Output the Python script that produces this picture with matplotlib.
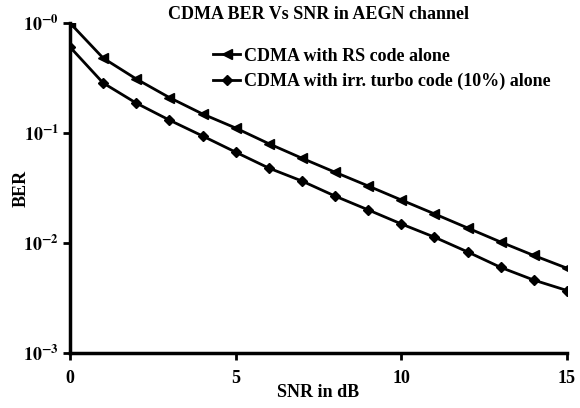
import numpy as np
import matplotlib.pyplot as plt

# Dados
snr = np.arange(0, 16)
ber_rs = [1.0, 0.48, 0.31, 0.21, 0.149, 0.111, 0.080, 0.059, 0.044, 0.033,
          0.0246, 0.0184, 0.0137, 0.0102, 0.0077, 0.0059]
ber_turbo = [0.605, 0.285, 0.187, 0.131, 0.094, 0.067, 0.048, 0.0366, 0.0267, 0.020,
             0.0149, 0.0113, 0.0083, 0.0060, 0.0046, 0.0037]
y_ticks = [1e-3, 1e-2, 1e-1, 1e0]
y_labels = [r'$10^{-3}$', r'$10^{-2}$', r'$10^{-1}$', r'$10^{-0}$']

plt.rcParams['font.family'] = 'Liberation Serif'
plt.rcParams['font.weight'] = 'bold'
plt.rcParams['mathtext.fontset'] = 'stix'
plt.rcParams['mathtext.default'] = 'bf'

fig = plt.figure(figsize=(5.8, 4.08), dpi=100)
ax = fig.add_axes([0.1207, 0.1348, 0.8569, 0.8088])

ax.semilogy(snr, ber_rs, color='black', lw=2, marker='<', ms=7,
            label='CDMA with RS code alone')
ax.semilogy(snr, ber_turbo, color='black', lw=2, marker='D', ms=5,
            label='CDMA with irr. turbo code (10%) alone')

ax.set_xlim(0, 15)
ax.set_ylim(1e-3, 1e0)
ax.set_xticks([0, 5, 10, 15])
ax.set_yticks(y_ticks)
ax.set_yticklabels(y_labels)
ax.minorticks_off()
ax.tick_params(axis='both', width=2, length=5, labelsize=13, direction='out')
ax.tick_params(axis='x', pad=7)
ax.tick_params(axis='y', pad=3)

for s in ['top', 'right']:
    ax.spines[s].set_visible(False)
for s in ['left', 'bottom']:
    ax.spines[s].set_linewidth(2.5)

ax.set_xlabel('SNR in dB', fontsize=13, fontweight='bold', labelpad=-2)
ax.set_ylabel('BER', fontsize=13, fontweight='bold', labelpad=-5)
ax.set_title('CDMA BER Vs SNR in AEGN channel', fontsize=13, fontweight='bold', pad=1)

ax.legend(loc='upper left', bbox_to_anchor=(0.288, 0.925), frameon=False,
          fontsize=13, handlelength=1.5, handletextpad=0.2, labelspacing=0.45,
          borderaxespad=0, borderpad=0)

fig.savefig('out.png', dpi=100)
